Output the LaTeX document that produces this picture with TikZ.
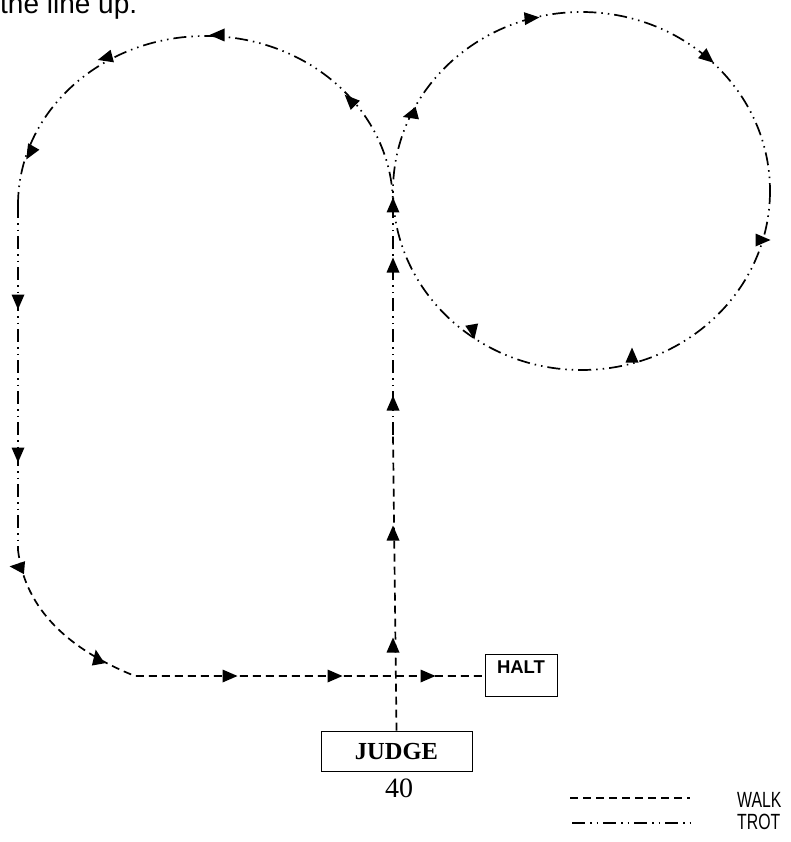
\documentclass[tikz,border=0pt]{standalone}
\usepackage{fontspec}
\setmainfont{Liberation Serif}
\setsansfont{Liberation Sans}
\newfontfamily\narrowfont[FakeStretch=0.72]{Liberation Sans}
\usepackage{tikz}
\tikzset{
  trot/.style={line width=1.7pt, dash pattern=on 13pt off 5pt on 1.5pt off 5pt on 1.5pt off 5pt},
  walk/.style={line width=1.7pt, dash pattern=on 8pt off 5pt},
  box/.style={draw, line width=0.8pt, inner sep=0pt}
}
\newcommand\arrowtip[3]{\fill[shift={(#1,#2)}, rotate=#3] (7.5,0) -- (-7.5,6.5) -- (-7.5,-6.5) -- cycle;}

\begin{document}
\begin{tikzpicture}[x=1pt, y=-1pt]
\useasboundingbox (0,0) rectangle (791,842);
\node[anchor=base west, inner sep=0pt, font=\sffamily\fontsize{28}{32}\selectfont] (intro) at (0,14) {the line up.};
\coordinate (junction) at (393,191);
\coordinate (lefttop) at (18,205);
\coordinate (leftbot) at (18,550);
\coordinate (gait) at (393,435);
\node[box, minimum width=151pt, minimum height=40pt, font=\bfseries\fontsize{24.5}{26}\selectfont] (judge) at (396.5,751) {JUDGE};
\node[font=\fontsize{28}{30}\selectfont] (num) at (399,788) {40};
\node[box, minimum width=72pt, text height=19pt, text depth=23pt, font=\sffamily\bfseries\fontsize{18.5}{20}\selectfont] (halt) at (521,675) {HALT};
\draw[trot] (lefttop) arc[start angle=180, end angle=360, x radius=187.5, y radius=169];
\draw[trot] (lefttop) -- (leftbot);
\draw[trot] (581.5,191) ellipse [x radius=188.5, y radius=179];
\draw[trot] (gait) -- (junction);
\draw[walk] (judge.north) -- (gait);
\draw[walk] (leftbot) .. controls (25,610) and (70,650) .. (135,676) -- (halt.west |- 0,676);
\arrowtip{217}{35}{180}
\arrowtip{105}{58}{195}
\arrowtip{350}{100}{135}
\arrowtip{30}{153}{240}
\arrowtip{18}{302}{-90}
\arrowtip{18}{455}{-90}
\arrowtip{17}{567}{175}
\arrowtip{97}{657}{100}
\arrowtip{230}{676}{0}
\arrowtip{335}{676}{0}
\arrowtip{428}{676}{0}
\arrowtip{393}{205}{90}
\arrowtip{393}{265}{90}
\arrowtip{393}{403}{90}
\arrowtip{393}{533}{90}
\arrowtip{393}{645}{90}
\arrowtip{410}{115}{195}
\arrowtip{532}{18}{5}
\arrowtip{708}{58}{-40}
\arrowtip{763}{240}{0}
\arrowtip{632}{355}{90}
\arrowtip{473}{332}{-80}
\coordinate (walka) at (570,798);
\coordinate (walkb) at (690,798);
\coordinate (trota) at (572,823);
\coordinate (trotb) at (693,823);
\draw[walk] (walka) -- (walkb);
\draw[trot] (trota) -- (trotb);
\node[anchor=west, inner sep=0pt, font=\narrowfont\fontsize{22}{24}\selectfont] (walklbl) at (737,800) {WALK};
\node[anchor=west, inner sep=0pt, font=\narrowfont\fontsize{22}{24}\selectfont] (trotlbl) at (737,822) {TROT};
\end{tikzpicture}
\end{document}
